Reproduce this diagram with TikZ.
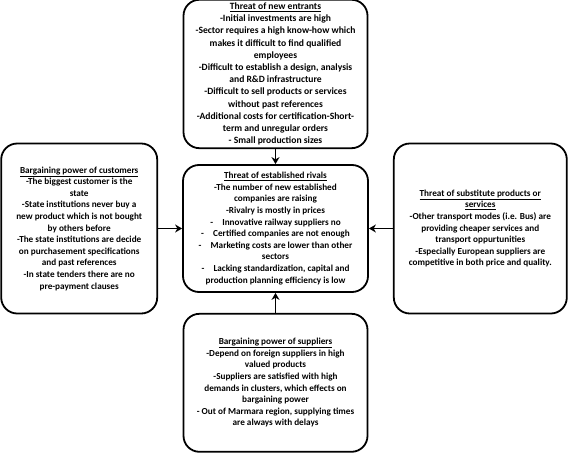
\documentclass[tikz,border=0pt]{standalone}
\usepackage{fontspec}
\setmainfont{Carlito}
\usepackage{tikz}
\usetikzlibrary{arrows.meta, positioning}
\definecolor{boxline}{RGB}{0,0,0}
\tikzset{
  force/.style={rectangle, draw=boxline, fill=white, line width=1.8pt,
                rounded corners=16pt, align=center, inner sep=3pt,
                font=\bfseries\fontsize{9.2}{11.6}\selectfont},
  arrow/.style={-{Stealth[length=7pt, width=8pt]}, line width=1.8pt, color=boxline}
}
\newcommand{\forcetitle}[1]{\underline{#1}}

\begin{document}
\begin{tikzpicture}[x=1pt, y=1pt, node distance=15pt and 24pt]

  \useasboundingbox (0,0) rectangle (569,-452);

  %% ── Rivalry (centre) ────────────────────────────────────────────────
  \node[force, minimum width=185pt, minimum height=127pt] (rivals) at (275.5,-228.5)
        {\forcetitle{Threat of established rivals}\\
         -The number of new established\\companies are raising\\
         -Rivalry is mostly in prices\\
         -\quad Innovative railway suppliers no\\
         -\quad Certified companies are not enough\\
         -\quad Marketing costs are lower than other\\sectors\\
         -\quad Lacking standardization, capital and\\production planning efficiency is low};

  %% ── New entrants ────────────────────────────────────────────────────
  \node[force, minimum width=184pt, minimum height=148pt, above=15pt of rivals,
        font=\bfseries\fontsize{9.6}{12.2}\selectfont] (entrants)
        {\forcetitle{Threat of new entrants}\\
         -Initial investments are high\\
         -Sector requires a high know-how which\\makes it difficult to find qualified\\employees\\
         -Difficult to establish a design, analysis\\and R\&D infrastructure\\
         -Difficult to sell products or services\\without past references\\
         -Additional costs for certification-Short-\\term and unregular orders\\
         - Small production sizes};

  %% ── Customers ───────────────────────────────────────────────────────
  \node[force, minimum width=156pt, minimum height=170pt, left=24pt of rivals] (customers)
        {\forcetitle{Bargaining power of customers}\\
         -The biggest customer is the\\state\\
         -State institutions never buy a\\new product which is not bought\\by others before\\
         -The state institutions are decide\\on purchasement specifications\\and past references\\
         -In state tenders there are no\\pre-payment clauses};

  %% ── Substitutes ─────────────────────────────────────────────────────
  \node[force, minimum width=173pt, minimum height=170pt, right=24pt of rivals] (substitutes)
        {\forcetitle{Threat of substitute products or}\\\forcetitle{services}\\
         -Other transport modes (i.e. Bus) are\\providing cheaper services and\\transport oppurtunities\\
         -Especially European suppliers are\\competitive in both price and quality.};

  %% ── Suppliers ───────────────────────────────────────────────────────
  \node[force, minimum width=184pt, minimum height=138pt, below=20pt of rivals] (suppliers)
        {\forcetitle{Bargaining power of suppliers}\\
         -Depend on foreign suppliers in high\\valued products\\
         -Suppliers are satisfied with high\\demands in clusters, which effects on\\bargaining power\\
         - Out of Marmara region, supplying times\\are always with delays};

  %% ── Arrows ──────────────────────────────────────────────────────────
  \draw[arrow] (entrants) -- (rivals);
  \draw[arrow] (suppliers) -- (rivals);
  \draw[arrow] (customers) -- (rivals);
  \draw[arrow] (substitutes) -- (rivals);

\end{tikzpicture}
\end{document}
